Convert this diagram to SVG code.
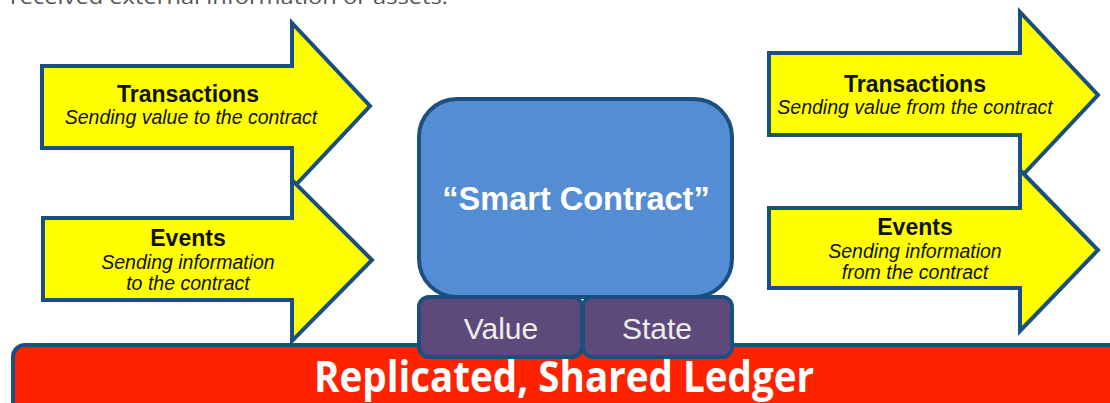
<svg xmlns="http://www.w3.org/2000/svg" width="1110" height="403" viewBox="0 0 1110 403">
<style>
.arrow{fill:#FFFF00;stroke:#1B4F7F;stroke-width:4;stroke-linejoin:miter}
.t{font-family:"Liberation Sans",Arial,sans-serif;font-weight:bold;font-size:23px;fill:#111;text-anchor:middle}
.s{font-family:"Liberation Sans",Arial,sans-serif;font-style:italic;font-size:19.5px;fill:#111;text-anchor:middle}
.box{stroke:#1B4F7F;stroke-width:4}
.w{font-family:"Liberation Sans",Arial,sans-serif;fill:#EEEEEE;text-anchor:middle}
</style>
<text x="10" y="4" font-family="'Open Sans',sans-serif" font-size="20" fill="#555555" textLength="438" lengthAdjust="spacingAndGlyphs">received external information or assets.</text>
<g id="arrow-in-transactions">
<polygon class="arrow" points="42,66 292,66 292,23 370,106 292,189 292,148 42,148"/>
<text class="t" x="188" y="102">Transactions</text>
<text class="s" x="191" y="124">Sending value to the contract</text>
</g>
<g id="arrow-in-events">
<polygon class="arrow" points="43,218 292,218 292,180 372,260 292,341 292,300 43,300"/>
<text class="t" x="188" y="246">Events</text>
<text class="s" x="188" y="269">Sending information</text>
<text class="s" x="188" y="290">to the contract</text>
</g>
<g id="arrow-out-transactions">
<polygon class="arrow" points="769,53 1020,53 1020,12 1098,95 1020,178 1020,135 769,135"/>
<text class="t" x="915" y="92">Transactions</text>
<text class="s" x="915" y="114">Sending value from the contract</text>
</g>
<g id="arrow-out-events">
<polygon class="arrow" points="769,208 1020,208 1020,170 1098,250 1020,331 1020,288 769,288"/>
<text class="t" x="915" y="235">Events</text>
<text class="s" x="915" y="258">Sending information</text>
<text class="s" x="915" y="279">from the contract</text>
</g>
<g id="ledger">
<rect class="box" x="13" y="345" width="1120" height="80" rx="12" fill="#FF2200"/>
<text x="564" y="392" font-family="'Open Sans',sans-serif" font-weight="bold" font-size="43" fill="#FFFFFF" text-anchor="middle" textLength="500" lengthAdjust="spacingAndGlyphs">Replicated, Shared Ledger</text>
</g>
<g id="smart-contract">
<rect class="box" x="419" y="99" width="313" height="198" rx="38" fill="#548DD4"/>
<text class="w" x="576" y="210" font-size="32.5" font-weight="bold" style="fill:#FFFFFF">“Smart Contract”</text>
</g>
<g id="value">
<rect class="box" x="419" y="297" width="163" height="60" rx="10" fill="#5E4A7A"/>
<text class="w" x="501" y="339" font-size="30">Value</text>
</g>
<g id="state">
<rect class="box" x="583" y="297" width="149" height="60" rx="10" fill="#5E4A7A"/>
<text class="w" x="657" y="339" font-size="30">State</text>
</g>
<g id="connectors"></g>
</svg>
